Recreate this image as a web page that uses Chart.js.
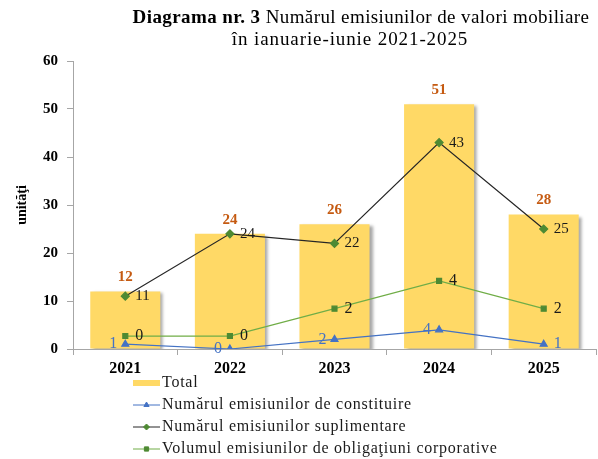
<!DOCTYPE html>
<html lang="ro">
<head>
<meta charset="UTF-8">
<title>Diagrama nr. 3</title>
<script src="https://cdn.jsdelivr.net/npm/chart.js"></script>
<style>
    body { margin: 0; background: #fff; }
    #chartCanvas { display: block; }
</style>
</head>
<body>
<canvas id="chartCanvas" width="598" height="459"></canvas>
<script>
    const years = ['2021', '2022', '2023', '2024', '2025'];
    const totalValues = [12, 24, 26, 51, 28];
    const constituireValues = [1, 0, 2, 4, 1];
    const suplimentareValues = [11, 24, 22, 43, 25];
    // the volume line is drawn higher than its labels in the original chart
    const volumValues = [2.7, 2.7, 8.4, 14.2, 8.4];
    const volumLabels = ['0', '0', '2', '4', '2'];
    const seriesNames = [
        'Total',
        'Numărul emisiunilor de constituire',
        'Numărul emisiunilor suplimentare',
        'Volumul emisiunilor de obligaţiuni corporative'
    ];
    const titleBold = 'Diagrama nr. 3';
    const titleRest = ' Numărul emisiunilor de valori mobiliare';
    const titleLine2 = 'în ianuarie-iunie 2021-2025';
    const yAxisTitle = 'unităţi';

    const SERIF = '"Liberation Serif", "Times New Roman", serif';

    // bar shadow, like the original
    const shadowPlugin = {
        id: 'barShadow',
        beforeDatasetDraw(chart, args) {
            if (args.index !== 0) return;
            const ctx = chart.ctx;
            ctx.save();
            ctx.shadowColor = 'rgba(0,0,0,0.35)';
            ctx.shadowOffsetX = 3;
            ctx.shadowOffsetY = 2;
            ctx.shadowBlur = 3;
        },
        afterDatasetDraw(chart, args) {
            if (args.index !== 0) return;
            chart.ctx.restore();
        }
    };

    const labelPlugin = {
        id: 'valueLabels',
        afterDatasetsDraw(chart) {
            const ctx = chart.ctx;
            ctx.save();
            ctx.textBaseline = 'middle';
            chart.data.datasets.forEach((ds, i) => {
                const meta = chart.getDatasetMeta(i);
                const st = ds.labelStyle;
                ctx.font = st.font;
                ctx.fillStyle = st.color;
                meta.data.forEach((el, j) => {
                    const txt = ds.valueLabels ? ds.valueLabels[j] : String(ds.data[j]);
                    const side = Array.isArray(st.side) ? st.side[j] : st.side;
                    if (side === 'top') {
                        ctx.textAlign = 'center';
                        ctx.fillText(txt, el.x, el.y - 14);
                    } else if (side === 'left') {
                        ctx.textAlign = 'right';
                        ctx.fillText(txt, el.x - 8, el.y);
                    } else {
                        ctx.textAlign = 'left';
                        ctx.fillText(txt, el.x + 10, el.y);
                    }
                });
            });
            ctx.restore();
        }
    };

    const titleLegendPlugin = {
        id: 'titleLegend',
        afterDraw(chart) {
            const ctx = chart.ctx;
            ctx.save();
            ctx.fillStyle = '#000';
            ctx.textBaseline = 'middle';
            // title, first part bold
            ctx.letterSpacing = '0.4px';
            const boldFont = 'bold 19px ' + SERIF;
            const normFont = '19px ' + SERIF;
            ctx.font = boldFont;
            const w1 = ctx.measureText(titleBold).width;
            ctx.font = normFont;
            const w2 = ctx.measureText(titleRest).width;
            let x = 361 - (w1 + w2) / 2;
            ctx.textAlign = 'left';
            ctx.font = boldFont;
            ctx.fillText(titleBold, x, 18);
            ctx.font = normFont;
            ctx.fillText(titleRest, x + w1, 18);
            ctx.textAlign = 'center';
            ctx.letterSpacing = '0.9px';
            ctx.fillText(titleLine2, 350, 40);

            // legend
            ctx.font = '16px ' + SERIF;
            ctx.letterSpacing = '0.75px';
            ctx.textAlign = 'left';
            const rowY = [383, 405, 427, 449];
            chart.data.datasets.forEach((ds, i) => {
                const y = rowY[i];
                if (ds.type === 'bar') {
                    ctx.fillStyle = ds.backgroundColor;
                    ctx.fillRect(133, y - 3, 27, 6);
                } else {
                    ctx.strokeStyle = ds.borderColor;
                    ctx.lineWidth = 1;
                    ctx.beginPath();
                    ctx.moveTo(133, y);
                    ctx.lineTo(160, y);
                    ctx.stroke();
                    ctx.fillStyle = ds.pointBackgroundColor;
                    ctx.strokeStyle = ds.pointBorderColor;
                    Chart.helpers.drawPoint(ctx, {
                        pointStyle: ds.pointStyle,
                        radius: 3,
                        borderWidth: 1
                    }, 146.5, y);
                }
                ctx.fillStyle = '#1a1a1a';
                ctx.fillText(ds.label, 162, y);
            });
            ctx.restore();
        }
    };

    const ctx = document.getElementById('chartCanvas').getContext('2d');
    new Chart(ctx, {
        data: {
            labels: years,
            datasets: [{
                type: 'bar',
                label: seriesNames[0],
                data: totalValues,
                backgroundColor: '#FFD966',
                borderWidth: 0,
                categoryPercentage: 1,
                barPercentage: 0.67,
                order: 10,
                labelStyle: { font: 'bold 15px ' + SERIF, color: '#C55A11', side: 'top' }
            }, {
                type: 'line',
                label: seriesNames[1],
                data: constituireValues,
                borderColor: '#4472C4',
                borderWidth: 1.2,
                pointStyle: 'triangle',
                pointRadius: 4,
                pointBackgroundColor: '#4472C4',
                pointBorderColor: '#4472C4',
                order: 1,
                labelStyle: { font: '16px ' + SERIF, color: '#4472C4', side: ['left', 'left', 'left', 'left', 'right'] }
            }, {
                type: 'line',
                label: seriesNames[2],
                data: suplimentareValues,
                borderColor: '#262626',
                borderWidth: 1.2,
                pointStyle: 'rectRot',
                pointRadius: 4,
                pointBackgroundColor: '#4E8A33',
                pointBorderColor: '#4E8A33',
                order: 2,
                labelStyle: { font: '15px ' + SERIF, color: '#1a1a1a', side: 'right' }
            }, {
                type: 'line',
                label: seriesNames[3],
                data: volumValues,
                valueLabels: volumLabels,
                borderColor: '#70AD47',
                borderWidth: 1.2,
                pointStyle: 'rect',
                pointRadius: 3.5,
                pointBackgroundColor: '#4E8A33',
                pointBorderColor: '#4E8A33',
                order: 3,
                labelStyle: { font: '16px ' + SERIF, color: '#1a1a1a', side: 'right' }
            }]
        },
        options: {
            responsive: false,
            animation: false,
            layout: { autoPadding: false, padding: { top: 61, right: 2, bottom: 80, left: 0 } },
            plugins: {
                legend: { display: false },
                title: { display: false },
                tooltip: { enabled: false }
            },
            scales: {
                x: {
                    grid: {
                        offset: true,
                        drawOnChartArea: false,
                        drawTicks: true,
                        tickLength: 6,
                        color: '#A6A6A6'
                    },
                    border: { color: '#A6A6A6' },
                    ticks: {
                        color: '#000',
                        padding: 4,
                        font: { family: SERIF, size: 16, weight: 'bold' }
                    },
                    afterFit(scale) {
                        scale.height = 30;
                        scale.paddingLeft = 0;
                        scale.paddingRight = 0;
                    }
                },
                y: {
                    min: 0,
                    max: 60,
                    ticks: {
                        stepSize: 10,
                        color: '#000',
                        padding: 9,
                        font: { family: SERIF, size: 15, weight: 'bold' }
                    },
                    grid: {
                        drawOnChartArea: false,
                        drawTicks: true,
                        tickLength: 6,
                        color: '#A6A6A6'
                    },
                    border: { color: '#A6A6A6' },
                    title: {
                        display: true,
                        text: yAxisTitle,
                        color: '#000',
                        padding: { top: 14, bottom: 0 },
                        font: { family: SERIF, size: 14, weight: 'bold' }
                    },
                    afterFit(scale) { scale.width = 73; }
                }
            }
        },
        plugins: [shadowPlugin, labelPlugin, titleLegendPlugin]
    });
</script>
</body>
</html>
